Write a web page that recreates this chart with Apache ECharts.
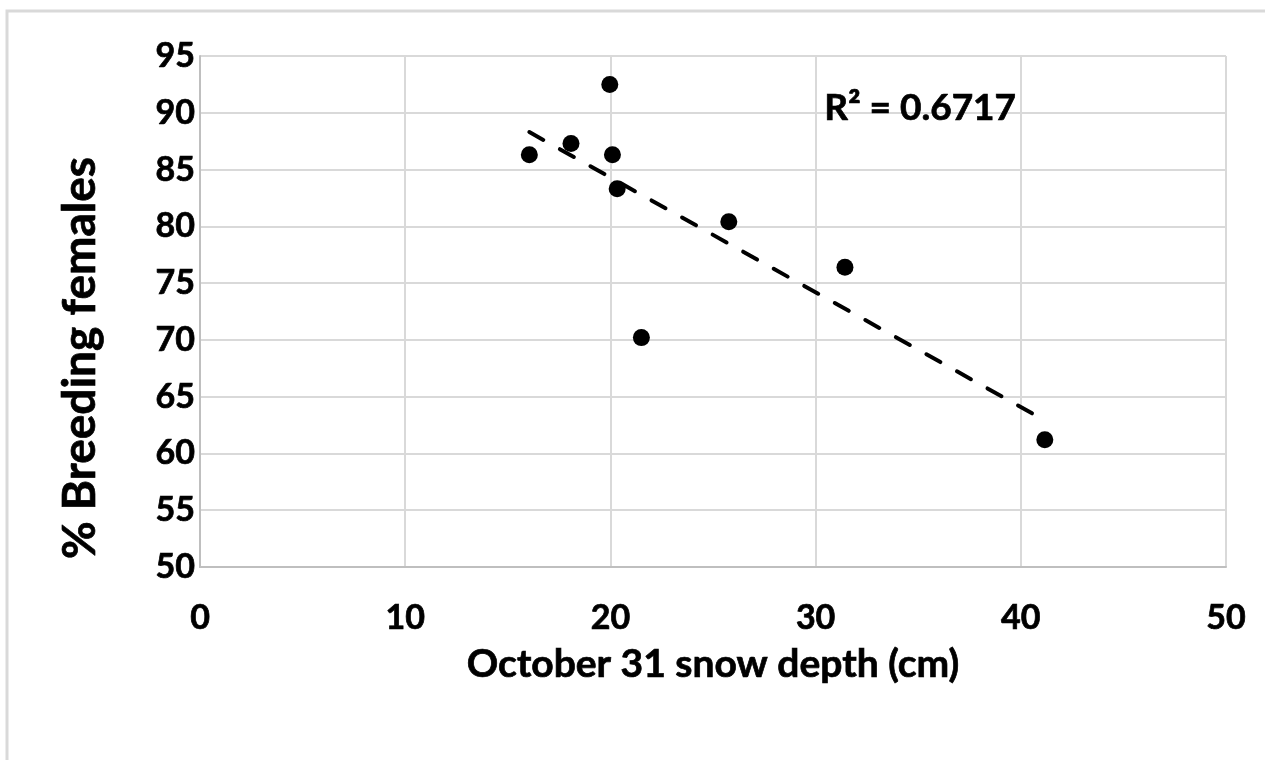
<!DOCTYPE html>
<html>
<head>
<meta charset="utf-8">
<script src="https://cdn.jsdelivr.net/npm/echarts@6/dist/echarts.min.js"></script>
<style>
html,body{margin:0;padding:0;background:#fff;}
#chart{width:1265px;height:760px;}
</style>
</head>
<body>
<div id="chart"></div>
<script>
// Data
var snowDepth = [16.05, 18.08, 19.97, 20.10, 20.33, 21.51, 25.77, 31.43, 41.17];
var breedingPct = [86.3, 87.3, 92.5, 86.3, 83.3, 70.2, 80.4, 76.4, 61.2];
var trendX = [16.05, 41.17];
var trendY = [88.3, 62.9];
var rSquaredText = 'R\u00B2 = 0.6717';
var xTitle = 'October 31 snow depth (cm)';
var yTitle = '% Breeding females';

var points = snowDepth.map(function (x, i) { return [x, breedingPct[i]]; });
var trend = trendX.map(function (x, i) { return [x, trendY[i]]; });

var FONT = 'Lato';
var W = 'bold';
var SB = 0.7; // slight stroke to mimic heavier weight
var chart = echarts.init(document.getElementById('chart'), null, {renderer: 'canvas'});
chart.setOption({
  backgroundColor: '#ffffff',
  animation: false,
  grid: {left: 200, right: 39, top: 56, bottom: 193, containLabel: false},
  xAxis: {
    type: 'value', min: 0, max: 50, interval: 10,
    name: xTitle, nameLocation: 'middle', nameGap: 78,
    nameTextStyle: {fontFamily: FONT, fontWeight: W, fontSize: 39, color: '#000', textBorderColor: '#000', textBorderWidth: SB},
    axisLine: {show: true, lineStyle: {color: '#bfbfbf', width: 2}},
    axisTick: {show: false},
    axisLabel: {fontFamily: FONT, fontWeight: W, fontSize: 34, color: '#000', margin: 34, textBorderColor: '#000', textBorderWidth: SB},
    splitLine: {show: true, lineStyle: {color: '#d9d9d9', width: 2}}
  },
  yAxis: {
    type: 'value', min: 50, max: 95, interval: 5,
    axisLine: {show: true, lineStyle: {color: '#bfbfbf', width: 2}},
    axisTick: {show: false},
    axisLabel: {fontFamily: FONT, fontWeight: W, fontSize: 34, color: '#000', margin: 5, textBorderColor: '#000', textBorderWidth: SB},
    splitLine: {show: true, lineStyle: {color: '#d9d9d9', width: 2}}
  },
  series: [
    {
      type: 'line', data: trend, symbol: 'none', silent: true, z: 2,
      lineStyle: {color: '#000', width: 4, type: [16, 19], cap: 'round', opacity: 1}
    },
    {
      type: 'scatter', data: points, symbol: 'circle', symbolSize: 17, z: 3,
      itemStyle: {color: '#000', opacity: 1}
    }
  ],
  graphic: [
    {type: 'rect', z: -10, shape: {x: 7, y: 11, width: 1300, height: 800},
     style: {fill: 'none', stroke: '#d9d9d9', lineWidth: 3}},
    {type: 'text', x: 80, y: 358, rotation: Math.PI / 2, z: 10,
     style: {text: yTitle, fontFamily: FONT, fontWeight: W, fontSize: 46, fill: '#000',
             stroke: '#000', lineWidth: SB, align: 'center', verticalAlign: 'middle'}},
    {type: 'text', left: 824, top: 89, z: 10,
     style: {text: rSquaredText, fontFamily: FONT, fontWeight: W, fontSize: 37, fill: '#000',
             stroke: '#000', lineWidth: SB}}
  ]
});
</script>
</body>
</html>
